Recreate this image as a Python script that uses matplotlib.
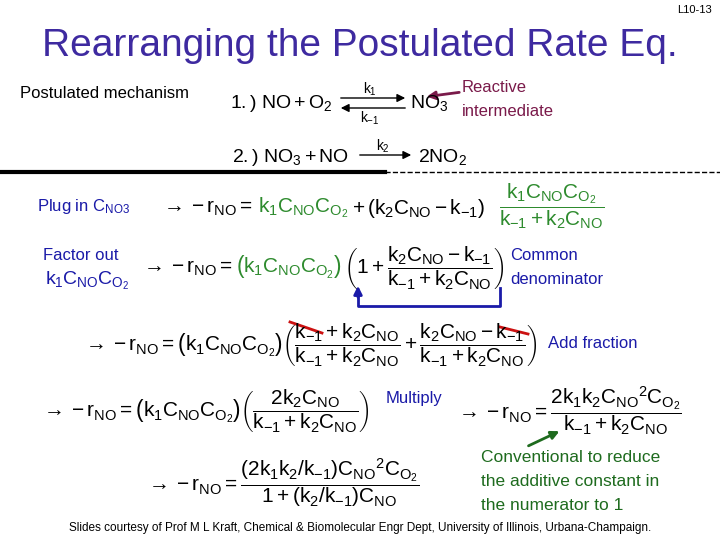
import matplotlib.pyplot as plt
from matplotlib.patches import FancyArrowPatch

plt.rcParams['mathtext.fontset'] = 'custom'
plt.rcParams['mathtext.rm'] = 'Liberation Sans'
plt.rcParams['mathtext.it'] = 'Liberation Sans'
plt.rcParams['mathtext.bf'] = 'Liberation Sans:bold'
plt.rcParams['font.family'] = ['Liberation Sans', 'DejaVu Sans']

title = "Rearranging the Postulated Rate Eq."
footer = "Slides courtesy of Prof M L Kraft, Chemical & Biomolecular Engr Dept, University of Illinois, Urbana-Champaign."
blue = '#1a1aa8'
green = '#2e8b2e'
dgreen = '#1e6b1e'
purple = '#3e2aa0'
dred = '#7a1a4a'

fig = plt.figure(figsize=(7.2, 5.4), dpi=100)
W, H = 720, 540


def t(x, y, s, size=15, color='black', ha='left', va='center', **kw):
    fig.text(x / W, 1 - y / H, s, fontsize=size, color=color, ha=ha, va=va, **kw)


def line(xs, ys, color, lw=2, **kw):
    fig.add_artist(plt.Line2D([x / W for x in xs], [1 - y / H for y in ys],
                              color=color, lw=lw, transform=fig.transFigure, **kw))


def arrow(x0, y0, x1, y1, color, lw=2):
    fig.add_artist(FancyArrowPatch((x0 / W, 1 - y0 / H), (x1 / W, 1 - y1 / H),
                                   transform=fig.transFigure, arrowstyle='-|>',
                                   mutation_scale=12, color=color, lw=lw))


t(712, 10, "L10-13", size=8, ha='right')
t(360, 46, title, size=28, color=purple, ha='center')

# mechanism
t(20, 94, "Postulated mechanism", size=12)
t(230, 103, r"$1.)\ NO + O_2$", size=14)
t(370, 89, r"$k_1$", size=10, ha='center')
t(370, 118, r"$k_{-1}$", size=10, ha='center')
arrow(338, 98, 408, 98, 'black', lw=1)
arrow(408, 108, 338, 108, 'black', lw=1)
t(410, 103, r"$NO_3$", size=14)
t(462, 88, "Reactive", size=12, color=dred)
t(462, 112, "intermediate", size=12, color=dred)
arrow(462, 92, 424, 97, dred)
t(232, 157, r"$2.)\ NO_3 + NO$", size=14)
t(383, 146, r"$k_2$", size=10, ha='center')
arrow(357, 155, 414, 155, 'black', lw=1)
t(418, 157, r"$2NO_2$", size=14)
line([0, 385], [172, 172], 'black', lw=3)
line([385, 720], [172, 172], 'black', lw=1, ls='--')

# plug in
t(37, 207, r"Plug in C$_{\mathrm{NO3}}$", size=12, color=blue)
t(160, 208, r"$\rightarrow -r_{NO} = $")
t(258, 208, r"$k_1C_{NO}C_{O_2}$", color=green)
t(352, 208, r"$+\,(k_2C_{NO} - k_{-1})$")
t(552, 206, r"$\dfrac{k_1C_{NO}C_{O_2}}{k_{-1}+k_2C_{NO}}$", color=green, ha='center')

# factor out
t(43, 256, "Factor out", size=12, color=blue)
t(45, 281, r"$k_1C_{NO}C_{O_2}$", size=14, color=blue)
t(140, 268, r"$\rightarrow -r_{NO} = $")
t(236, 266, r"$\left(k_1C_{NO}C_{O_2}\right)$", size=15, color=green)
t(344, 268, r"$\left(1+\dfrac{k_2C_{NO}-k_{-1}}{k_{-1}+k_2C_{NO}}\right)$")
t(510, 255, "Common", size=12, color=blue)
t(510, 279, "denominator", size=12, color=blue)
line([500, 500, 358, 358], [288, 306, 306, 292], blue)
arrow(358, 300, 358, 283, blue)

# add fraction
t(82, 345, r"$\rightarrow -r_{NO} = \left(k_1C_{NO}C_{O_2}\right)\left(\dfrac{k_{-1}+k_2C_{NO}}{k_{-1}+k_2C_{NO}}+\dfrac{k_2C_{NO}-k_{-1}}{k_{-1}+k_2C_{NO}}\right)$")
line([290, 322], [322, 333], '#cc1111')
line([500, 528], [327, 334], '#cc1111')
t(548, 344, "Add fraction", size=12, color=blue)

# multiply
t(40, 411, r"$\rightarrow -r_{NO} = \left(k_1C_{NO}C_{O_2}\right)\left(\dfrac{2k_2C_{NO}}{k_{-1}+k_2C_{NO}}\right)$")
t(386, 399, "Multiply", size=12, color=blue)
t(455, 411, r"$\rightarrow -r_{NO} = \dfrac{2k_1k_2C_{NO}{}^2C_{O_2}}{k_{-1}+k_2C_{NO}}$")
arrow(526, 447, 562, 430, dgreen)

# final
t(145, 483, r"$\rightarrow -r_{NO} = \dfrac{(2k_1k_2/k_{-1})C_{NO}{}^2C_{O_2}}{1+(k_2/k_{-1})C_{NO}}$")
t(481, 458, "Conventional to reduce", size=12.5, color=dgreen)
t(481, 482, "the additive constant in", size=12.5, color=dgreen)
t(481, 506, "the numerator to 1", size=12.5, color=dgreen)

t(360, 528, footer, size=8.5, ha='center')

fig.savefig('out.png', dpi=100)
